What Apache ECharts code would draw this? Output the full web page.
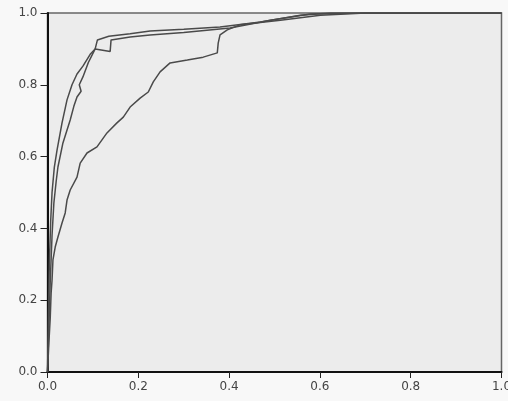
<!DOCTYPE html>
<html>
<head>
<meta charset="utf-8">
<script src="https://cdn.jsdelivr.net/npm/echarts@6/dist/echarts.min.js"></script>
<style>
  html, body { margin: 0; padding: 0; background: #f8f8f8; }
  #chart { width: 508px; height: 401px; }
</style>
</head>
<body>
<div id="chart"></div>
<script>
// axis ticks
var tickValues = [0, 0.2, 0.4, 0.6, 0.8, 1.0];

// curve A (upper, left)
var fprA = [0, 0.002, 0.004, 0.007, 0.010, 0.015, 0.021, 0.032, 0.043, 0.054, 0.065, 0.078, 0.094, 0.105, 0.110, 0.135, 0.182, 0.226, 0.300, 0.380, 0.469, 0.557, 0.623, 1.0];
var tprA = [0, 0.15, 0.30, 0.42, 0.50, 0.57, 0.618, 0.694, 0.758, 0.800, 0.830, 0.852, 0.885, 0.900, 0.925, 0.935, 0.942, 0.950, 0.955, 0.961, 0.975, 0.994, 1.0, 1.0];

// curve B (upper, right)
var fprB = [0, 0.003, 0.006, 0.010, 0.014, 0.019, 0.023, 0.034, 0.050, 0.058, 0.065, 0.074, 0.070, 0.078, 0.090, 0.097, 0.105, 0.138, 0.140, 0.182, 0.226, 0.300, 0.402, 0.491, 0.579, 0.700, 1.0];
var tprB = [0, 0.12, 0.25, 0.38, 0.47, 0.53, 0.571, 0.638, 0.702, 0.740, 0.766, 0.782, 0.800, 0.822, 0.862, 0.880, 0.900, 0.893, 0.925, 0.933, 0.939, 0.946, 0.958, 0.980, 0.997, 1.0, 1.0];

// curve C (lower)
var fprC = [0, 0.003, 0.006, 0.008, 0.010, 0.012, 0.017, 0.023, 0.032, 0.039, 0.043, 0.050, 0.065, 0.072, 0.087, 0.109, 0.131, 0.153, 0.167, 0.182, 0.204, 0.222, 0.233, 0.248, 0.270, 0.308, 0.343, 0.374, 0.376, 0.380, 0.396, 0.424, 0.513, 0.601, 0.700, 1.0];
var tprC = [0, 0.08, 0.15, 0.22, 0.256, 0.312, 0.348, 0.376, 0.415, 0.443, 0.479, 0.507, 0.543, 0.582, 0.610, 0.627, 0.666, 0.694, 0.710, 0.738, 0.763, 0.780, 0.808, 0.836, 0.861, 0.869, 0.877, 0.889, 0.916, 0.939, 0.953, 0.967, 0.980, 0.994, 1.0, 1.0];

function pairs(xs, ys) {
  var out = [];
  for (var i = 0; i < xs.length; i++) out.push([xs[i], ys[i]]);
  return out;
}

var chart = echarts.init(document.getElementById('chart'));

var axisCommon = {
  type: 'value',
  min: 0,
  max: 1,
  interval: 0.2,
  splitLine: { show: false },
  axisLine: { show: true, lineStyle: { color: '#111', width: 2 } },
  axisTick: { show: true, inside: false, length: 7, lineStyle: { color: '#222', width: 1 } },
  axisLabel: {
    color: '#444',
    fontFamily: 'DejaVu Sans',
    fontSize: 12,
    formatter: function (v) { return v.toFixed(1); }
  }
};

var lineStyle = { color: '#4a4a4a', width: 1.5 };

var option = {
  animation: false,
  backgroundColor: '#f8f8f8',
  grid: {
    left: 47.5,
    right: 6.5,
    top: 13,
    bottom: 29,
    outerBoundsMode: 'none',
    containLabel: false,
    show: true,
    backgroundColor: '#ececec',
    borderColor: '#666',
    borderWidth: 1.5
  },
  xAxis: Object.assign({}, axisCommon, {
    axisTick: Object.assign({}, axisCommon.axisTick, { length: 6 }),
    axisLabel: Object.assign({}, axisCommon.axisLabel, { margin: 9 })
  }),
  yAxis: Object.assign({}, axisCommon, {
    axisLabel: Object.assign({}, axisCommon.axisLabel, { margin: 10 })
  }),
  series: [
    { type: 'line', data: pairs(fprC, tprC), showSymbol: false, lineStyle: lineStyle },
    { type: 'line', data: pairs(fprB, tprB), showSymbol: false, lineStyle: lineStyle },
    { type: 'line', data: pairs(fprA, tprA), showSymbol: false, lineStyle: lineStyle }
  ]
};

chart.setOption(option);
</script>
</body>
</html>
